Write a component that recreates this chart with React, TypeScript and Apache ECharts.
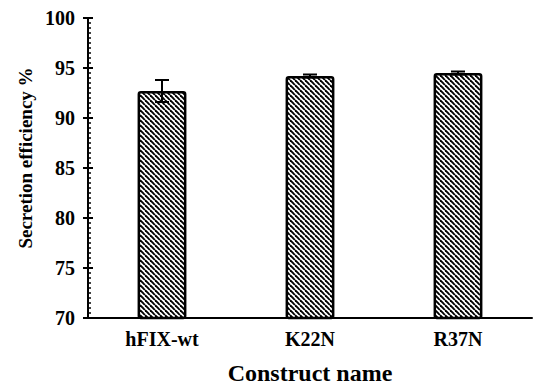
import React, { useEffect, useRef } from "react";
import * as echarts from "echarts";

const categories = ["hFIX-wt", "K22N", "R37N"];
const values = [92.7, 94.2, 94.5];
const errors = [1.1, 0.15, 0.15];
const yTicks = { min: 70, max: 100, interval: 5 };

function makePattern(): HTMLCanvasElement {
  const s = 5;
  const c = document.createElement("canvas");
  c.width = s;
  c.height = s;
  const ctx = c.getContext("2d")!;
  ctx.fillStyle = "#ffffff";
  ctx.fillRect(0, 0, s, s);
  ctx.strokeStyle = "#000000";
  ctx.lineWidth = 1.9;
  for (let k = -1; k <= 1; k++) {
    ctx.beginPath();
    ctx.moveTo(k * s, 0);
    ctx.lineTo(k * s + s, s);
    ctx.stroke();
  }
  return c;
}

export default function App() {
  const ref = useRef<HTMLDivElement>(null);
  useEffect(() => {
    if (!ref.current) return;
    const chart = echarts.init(ref.current, undefined, { renderer: "svg" });
    const font = "Liberation Serif";
    const pattern = makePattern();
    const errData = categories.map((c, i) => [i, values[i] - errors[i], values[i] + errors[i]]);
    chart.setOption({
      animation: false,
      grid: { left: 88, right: 1, top: 18, bottom: 67, outerBoundsMode: "none", containLabel: false },
      xAxis: {
        type: "category",
        data: categories,
        axisLine: { lineStyle: { color: "#000", width: 2 } },
        axisTick: { show: false },
        axisLabel: { color: "#000", fontFamily: font, fontWeight: "bold", fontSize: 20, margin: 11 },
        name: "Construct name",
        nameLocation: "middle",
        nameGap: 43,
        nameTextStyle: { color: "#000", fontFamily: font, fontWeight: "bold", fontSize: 24 },
      },
      yAxis: [
        {
          type: "value",
          min: yTicks.min,
          max: yTicks.max,
          interval: yTicks.interval,
          splitLine: { show: false },
          axisLine: { show: true, lineStyle: { color: "#000", width: 2 } },
          axisTick: { show: true, length: 5, lineStyle: { color: "#000", width: 2 } },
          axisLabel: { color: "#000", fontFamily: font, fontWeight: "bold", fontSize: 20, margin: 13 },
        },
        {
          type: "value",
          position: "left",
          min: yTicks.min,
          max: yTicks.max,
          interval: yTicks.interval,
          splitLine: { show: false },
          axisLine: { show: false },
          axisLabel: { show: false },
          axisTick: { show: true, inside: true, length: 5, lineStyle: { color: "#000", width: 2 } },
          minorTick: { show: true, splitNumber: 10, length: 3, lineStyle: { color: "#000", width: 1.5 } },
        },
      ],
      graphic: [
        {
          type: "text",
          x: 25,
          y: 158,
          rotation: Math.PI / 2,
          style: {
            text: "Secretion efficiency %",
            fill: "#000",
            fontFamily: font,
            fontWeight: "bold",
            fontSize: 19,
            align: "center",
            verticalAlign: "middle",
          },
        },
      ],
      series: [
        {
          type: "bar",
          data: values,
          barWidth: "33%",
          itemStyle: {
            color: { image: pattern, repeat: "repeat" },
            borderColor: "#000",
            borderWidth: 2.5,
            borderRadius: 2,
          },
        },
        {
          type: "custom",
          data: errData,
          z: 10,
          renderItem: (params: any, api: any) => {
            const x = api.value(0);
            const lo = api.coord([x, api.value(1)]);
            const hi = api.coord([x, api.value(2)]);
            const hw = 7;
            const st = { stroke: "#000", lineWidth: 2 };
            return {
              type: "group",
              children: [
                { type: "line", shape: { x1: hi[0], y1: hi[1], x2: lo[0], y2: lo[1] }, style: st },
                { type: "line", shape: { x1: hi[0] - hw, y1: hi[1], x2: hi[0] + hw, y2: hi[1] }, style: st },
                { type: "line", shape: { x1: lo[0] - hw, y1: lo[1], x2: lo[0] + hw, y2: lo[1] }, style: st },
              ],
            };
          },
        },
      ],
    });
    return () => chart.dispose();
  }, []);
  return <div ref={ref} style={{ width: 533, height: 385, position: "absolute", left: 0, top: 0 }} />;
}
